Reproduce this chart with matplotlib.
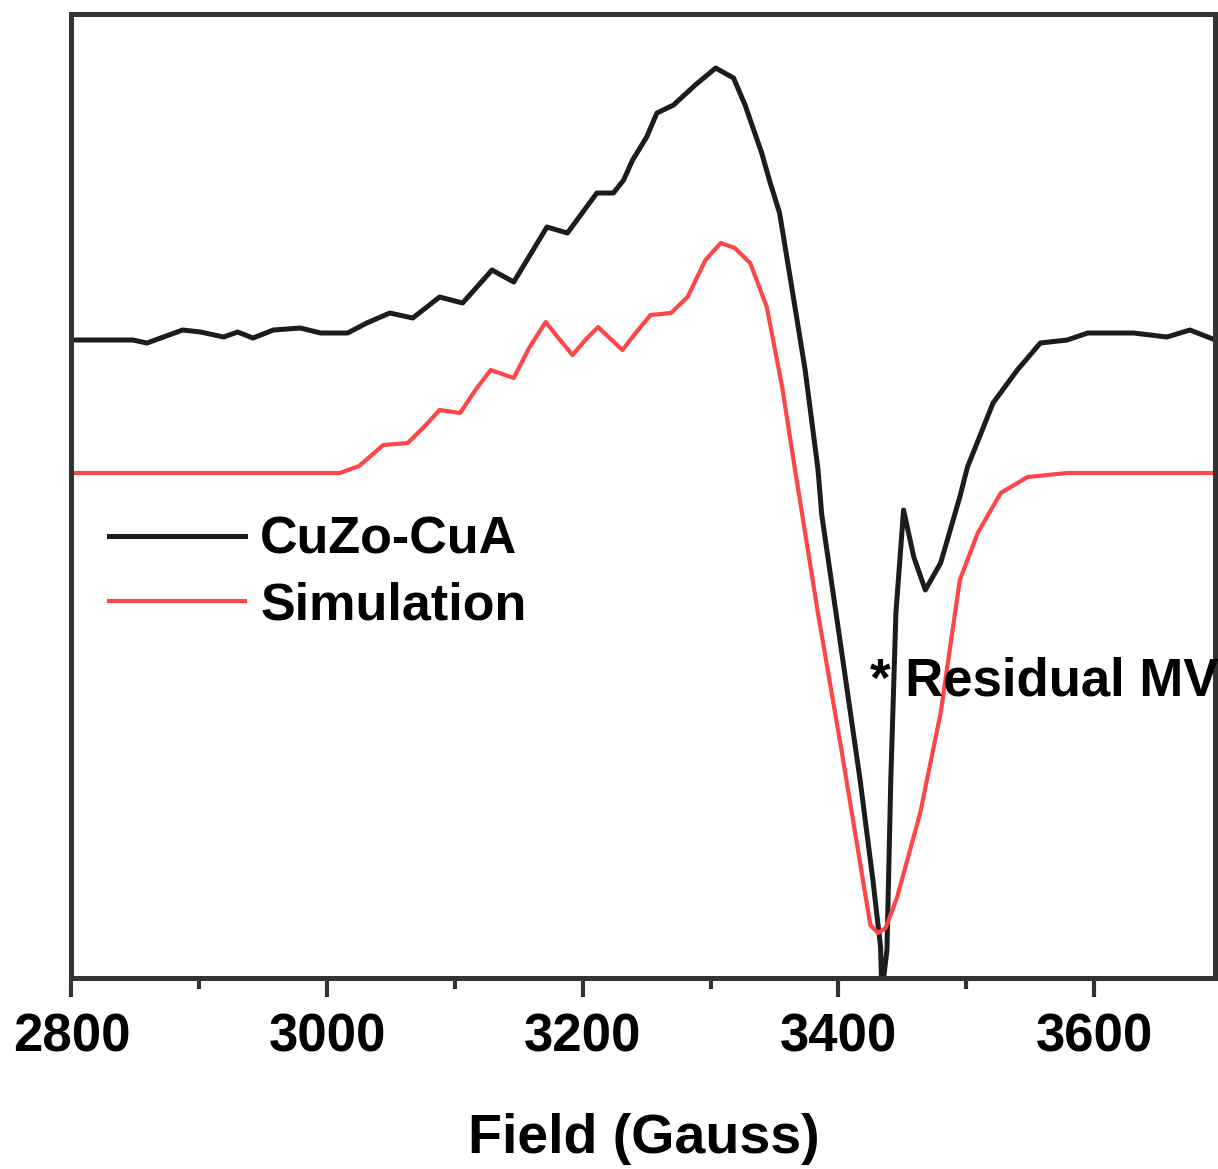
import matplotlib
matplotlib.use("Agg")
import matplotlib.pyplot as plt

# EPR spectrum, values (intensity in arbitrary units)
field_exp = [2800, 2822, 2848, 2859, 2887, 2901, 2919, 2930, 2942, 2958, 2979, 2995,
             3016, 3031, 3049, 3067, 3088, 3106, 3129, 3146, 3172, 3188, 3211, 3224,
             3232, 3239, 3250, 3258, 3271, 3288, 3304, 3318, 3327, 3340, 3346, 3354,
             3364, 3374, 3384, 3387, 3402, 3417, 3427, 3433, 3434, 3438, 3441, 3445,
             3451, 3459, 3468, 3480, 3495, 3501, 3521, 3540, 3558, 3579, 3595, 3631,
             3657, 3675, 3695]
int_exp = [63.8, 63.8, 63.8, 63.5, 64.8, 64.6, 64.1, 64.6, 64.0, 64.8, 65.0, 64.5,
           64.5, 65.5, 66.5, 66.0, 68.1, 67.5, 70.8, 69.6, 75.1, 74.5, 78.5, 78.5,
           79.8, 81.8, 84.1, 86.5, 87.3, 89.3, 91.0, 90.0, 87.3, 82.5, 79.8, 76.5,
           68.7, 60.8, 50.9, 46.3, 33.1, 19.8, 9.8, 3.1, -1.5, 2.8, 19.8, 36.5,
           46.8, 42.1, 38.8, 41.5, 48.1, 51.1, 57.5, 60.8, 63.5, 63.8, 64.5, 64.5,
           64.1, 64.8, 63.8]

field_sim = [2800, 3010, 3025, 3044, 3063, 3075, 3088, 3104, 3116, 3128, 3146, 3158,
             3171, 3181, 3192, 3202, 3212, 3221, 3231, 3242, 3253, 3269, 3282, 3296,
             3308, 3319, 3331, 3344, 3356, 3366, 3384, 3402, 3417, 3425, 3431, 3437,
             3446, 3464, 3480, 3495, 3509, 3527, 3548, 3579, 3695]
int_sim = [50.5, 50.5, 51.2, 53.3, 53.5, 55.0, 56.8, 56.5, 58.8, 60.8, 60.0, 63.0,
           65.6, 64.0, 62.3, 63.8, 65.1, 64.0, 62.8, 64.6, 66.3, 66.5, 68.1, 71.8,
           73.5, 73.0, 71.5, 67.1, 59.1, 50.9, 36.5, 23.1, 11.5, 5.3, 4.5, 5.0,
           8.1, 16.5, 26.5, 39.8, 44.5, 48.5, 50.1, 50.5, 50.5]

x_ticks = [2800, 3000, 3200, 3400, 3600]
x_minor = [2900, 3100, 3300, 3500]

plt.rcParams["font.family"] = ["Liberation Sans", "DejaVu Sans"]
plt.rcParams["font.weight"] = "bold"

fig = plt.figure(figsize=(12.18, 11.69), dpi=100)
ax = fig.add_axes([0.0587, 0.1634, 0.9392, 0.8246])

ax.plot(field_exp, int_exp, color="#1c1c1c", lw=3.6, solid_joinstyle="round",
        label="CuZo-CuA")
ax.plot(field_sim, int_sim, color="#ff4646", lw=3.0, solid_joinstyle="round",
        label="Simulation")

ax.set_xlim(2800, 3695)
ax.set_ylim(0, 96.4)
ax.set_xticks(x_ticks)
ax.set_xticks(x_minor, minor=True)
ax.set_xticklabels([str(t) for t in x_ticks])
ax.set_yticks([])

for sp in ax.spines.values():
    sp.set_linewidth(3.6)
    sp.set_color("#333333")

ax.tick_params(axis="x", which="major", direction="out", length=14, width=3,
               color="#333333", pad=11, labelsize=38)
ax.tick_params(axis="x", which="minor", direction="out", length=8, width=3,
               color="#333333")

ax.set_xlabel("Field (Gauss)", fontsize=40, fontweight="bold")
ax.xaxis.set_label_coords(0.5, -0.14)

ax.legend(loc="center left", bbox_to_anchor=(0.033, 0.42), frameon=False,
          fontsize=37.5, handlelength=2.6, handletextpad=0.3, labelspacing=0.32,
          borderpad=0, borderaxespad=0)

ax.text(3425, 29.6, "* Residual MV", fontsize=38, fontweight="bold",
        ha="left", va="center", clip_on=False)

fig.savefig("out.png", dpi=100)
